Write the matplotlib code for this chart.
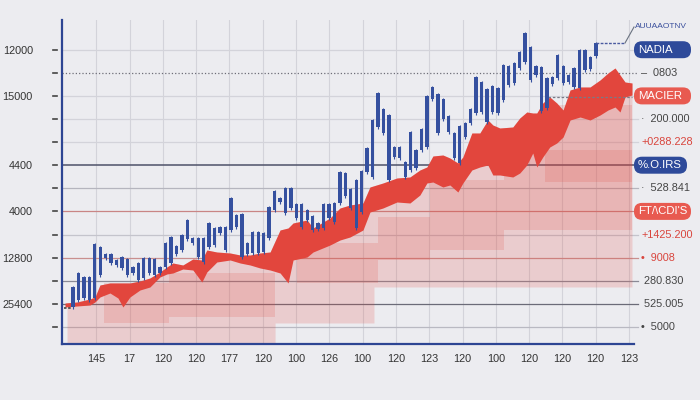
import numpy as np
import matplotlib
matplotlib.use("Agg")
import matplotlib.pyplot as plt
import matplotlib.transforms as mtransforms
from matplotlib.patches import FancyBboxPatch

plt.rcParams['font.family'] = ['Liberation Sans', 'DejaVu Sans']

# ---------------- data ----------------
# candle bodies (blue), evenly spaced in time
candle_top = [63, 77, 73, 73, 106, 103, 96, 96, 90, 93,
              91, 83, 87, 92, 92, 91, 83, 107, 113, 104,
              115, 130, 112, 112, 112, 127, 122, 123, 123, 152,
              135, 136, 107, 118, 118, 117, 143, 159, 152, 162,
              162, 146, 146, 140, 134, 127, 146, 146, 147, 178,
              177, 161, 170, 179, 202, 230, 257, 241, 235, 203,
              203, 188, 218, 200, 221, 254, 263, 256, 251, 234,
              217, 224, 227, 241, 273, 268, 261, 264, 262, 285,
              284, 287, 298, 317, 303, 284, 283, 272, 273, 295,
              284, 275, 282, 300, 300, 293, 307]
candle_bottom = [43, 50, 52, 50, 52, 75, 92, 87, 85, 82,
                 75, 77, 70, 72, 77, 75, 77, 83, 87, 96,
                 100, 111, 107, 93, 88, 103, 105, 117, 100, 120,
                 123, 93, 96, 97, 97, 98, 112, 140, 148, 137,
                 142, 132, 123, 130, 120, 121, 122, 132, 128, 147,
                 154, 142, 122, 138, 178, 173, 223, 217, 170, 193,
                 192, 173, 180, 182, 200, 203, 251, 217, 231, 218,
                 192, 187, 213, 227, 237, 238, 228, 238, 237, 250,
                 265, 267, 282, 288, 270, 275, 239, 242, 266, 272,
                 267, 268, 263, 262, 280, 281, 294]

# red band
band_x = [0.06, 0.42, 0.81, 0.96, 1.11, 1.41, 1.65, 1.80, 2.01, 2.31,
          2.61, 2.91, 3.12, 3.30, 3.60, 3.90, 4.17, 4.32, 4.62, 5.02,
          5.32, 5.62, 5.92, 6.22, 6.52, 6.76, 6.91, 7.33, 7.51, 8.02,
          8.32, 8.62, 9.01, 9.22, 9.61, 10.03, 10.42, 10.72, 10.93, 11.11,
          11.41, 11.62, 11.86, 12.01, 12.28, 12.52, 12.76, 12.91, 13.12, 13.51,
          13.72, 13.93, 14.11, 14.23, 14.41, 14.62, 14.83, 15.02, 15.23, 15.53,
          15.83, 16.13, 16.37, 16.58, 16.73, 16.88, 17.09]
band_top = [47, 48, 51, 53, 65, 67, 67, 67, 67, 69,
            72, 78, 83, 87, 85, 91, 90, 100, 98, 97,
            95, 95, 97, 98, 120, 122, 127, 130, 122, 132,
            142, 145, 147, 163, 167, 172, 173, 180, 183, 194,
            195, 192, 187, 193, 217, 217, 230, 225, 222, 223,
            232, 238, 237, 237, 247, 253, 247, 240, 260, 263,
            263, 270, 277, 282, 275, 268, 267]
band_bottom = [43, 44, 45, 48, 53, 57, 52, 43, 53, 60,
               63, 73, 76, 77, 81, 80, 68, 78, 88, 90,
               87, 85, 82, 80, 77, 67, 90, 93, 98, 105,
               110, 113, 120, 138, 142, 148, 147, 155, 167, 168,
               163, 165, 158, 167, 180, 183, 185, 175, 175, 173,
               177, 185, 197, 183, 193, 203, 207, 213, 230, 233,
               230, 235, 240, 243, 238, 253, 255]

# light pink shadow: (start, end, base level)
shadow_start = [0.12, 6.37, 9.34]
shadow_end = [6.37, 9.34, 17.09]
shadow_base = [7, 27, 63]

# medium pink blocks
block_start = [1.23, 3.18, 7.03, 9.46, 11.02, 14.47, 13.24]
block_end = [3.18, 6.37, 9.46, 11.02, 13.24, 17.09, 17.09]
block_low = [27, 33, 67, 90, 100, 168, 120]
block_high = [67, 77, 107, 133, 170, 245, 200]

x_tick_labels = ["145", "17", "120", "120", "177", "120", "100", "126", "100",
                 "120", "123", "120", "100", "120", "120", "120", "123"]
y_tick_labels = ["", "25400", "", "12800", "", "4000", "", "4400", "", "", "15000", "", "12000"]
right_labels = ["•  5000", " 525.005", " 280.830", "•  9008", "+1425.200", "FT/\\CDI'S",
                "·  528.841", "%.O.IRS", "+0288.228", "·  200.000", "MACIER", "–  0803", "NADIA"]
right_kind = ["t", "t", "t", "r", "r", "rbox", "t", "bbox", "r", "t", "rbox", "t", "bbox"]
line_color = ["#b9b9c2", "#6b6b78", "#8a8a96", "#c98f8f", "#c4c4cc", "#c98585",
              "#b5b5be", "#4e5269", "#d3d3da", "#d3d3da", "#d3d3da", "#6d6d78", "#d3d3da"]
line_style = ["-", "-", "-", "-", "-", "-", "-", "-", "-", "-", "-", ":", "-"]

# ---------------- style ----------------
BG = "#ececf0"
BLUE = "#35509f"
RED = "#e2463d"
TICK_STEP = 23.1
FS = 7.8
candle_start, candle_step, candle_w = 0.30, 0.1636, 0.10

fig = plt.figure(figsize=(7, 4), dpi=100, facecolor=BG)
ax = fig.add_axes([62 / 700, 56 / 400, 572 / 700, 324 / 400], facecolor=BG)
ax.set_xlim(-0.03, 17.15)
ax.set_ylim(6, 330)

yt = [TICK_STEP * (k + 1) for k in range(len(y_tick_labels))]
xt = np.arange(1, len(x_tick_labels) + 1)

# grid
for x in xt:
    ax.axvline(x, color="#d3d3da", lw=0.8, zorder=0)
xr = 17.27
for y, c, ls in zip(yt, line_color, line_style):
    ax.plot([ax.get_xlim()[0], xr], [y, y], color=c, lw=0.9 if c != "#4e5269" else 1.1,
            ls=ls, zorder=0.5, clip_on=False)

bx = np.array(band_x)
bt = np.array(band_top)
bb = np.array(band_bottom)

# light shadow
for x0, x1, base in zip(shadow_start, shadow_end, shadow_base):
    inner = bx[(bx > x0) & (bx < x1)]
    xs = np.concatenate([[x0], inner, [x1]])
    ys = np.interp(xs, bx, bt)
    ax.fill_between(xs, base, ys, color=RED, alpha=0.19, lw=0, zorder=1)

# medium blocks
ax.bar(block_start, np.array(block_high) - np.array(block_low),
       width=np.array(block_end) - np.array(block_start), bottom=block_low,
       align="edge", color=RED, alpha=0.17, lw=0, zorder=1.2)

# band
ax.fill_between(bx, bb, bt, color=RED, lw=0, zorder=2)

# candles
cx = candle_start + candle_step * np.arange(len(candle_top))
ct = np.array(candle_top)
cb = np.array(candle_bottom)
ax.bar(cx, ct - cb, bottom=cb, width=candle_w, color=BLUE, lw=0, zorder=3)
ax.vlines(cx, cb - 1.5, ct + 1.5, color=BLUE, lw=0.8, zorder=3)

# top-right annotation
ax.plot([cx[-1], 16.88], [ct[-1], ct[-1]], color="#4a5aa0", lw=1, ls=(0, (2, 1)), zorder=3)
ax.plot([16.88, 17.15], [ct[-1], 323], color="#6a7280", lw=0.8, zorder=3, clip_on=False)
ax.text(17.17, 324, "AUUAAOTNV", fontsize=6, color="#3a4f9c", va="center", ha="left")
ax.plot([14.56, 17.09], [253, 253], color="#7a7a86", lw=0.9, ls=(0, (2, 1.5)), zorder=2.5)
ax.plot([0.03, 0.27], [42, 42], color="#444", lw=1.2, ls=(0, (1.5, 1)), zorder=3)

# spines / ticks
for s in ["top", "right"]:
    ax.spines[s].set_visible(False)
for s in ["left", "bottom"]:
    ax.spines[s].set_color("#2d4593")
    ax.spines[s].set_linewidth(1.6)
ax.set_xticks(xt)
ax.set_xticklabels(x_tick_labels)
ax.set_yticks(yt)
ax.set_yticklabels(y_tick_labels)
ax.tick_params(axis="x", length=0, pad=7, labelsize=FS, labelcolor="#333333")
ax.tick_params(axis="y", length=0, pad=21, labelsize=FS, labelcolor="#333333")

# detached tick dashes left of the spine
transL = mtransforms.blended_transform_factory(ax.transAxes, ax.transData)
for y in yt:
    ax.plot([-0.0157, -0.0087], [y, y], color="#444", lw=1.2, transform=transL, clip_on=False)

# right labels
box_w = 57 / 572
for y, lab, kind in zip(yt, right_labels, right_kind):
    if kind in ("bbox", "rbox"):
        fc = "#2e4a9a" if kind == "bbox" else "#e85a50"
        w = box_w if lab != "%.O.IRS" else 53 / 572
        p = FancyBboxPatch((1.0, y - 8.5), w, 17, transform=transL,
                           boxstyle="round,pad=0,rounding_size=%f" % (8 / 572),
                           mutation_aspect=572, fc=fc, ec="none", clip_on=False, zorder=4)
        ax.add_patch(p)
        ax.text(1.007, y, lab, transform=transL, fontsize=FS + 0.4, color="white",
                va="center", ha="left", zorder=5)
    elif kind == "r":
        ax.text(1.0125, y, lab, transform=transL, fontsize=FS, color="#d9453d", va="center", ha="left")
    else:
        ax.text(1.0125, y, lab, transform=transL, fontsize=FS, color="#444444", va="center", ha="left")

fig.savefig("out.png", dpi=100, facecolor=BG)
